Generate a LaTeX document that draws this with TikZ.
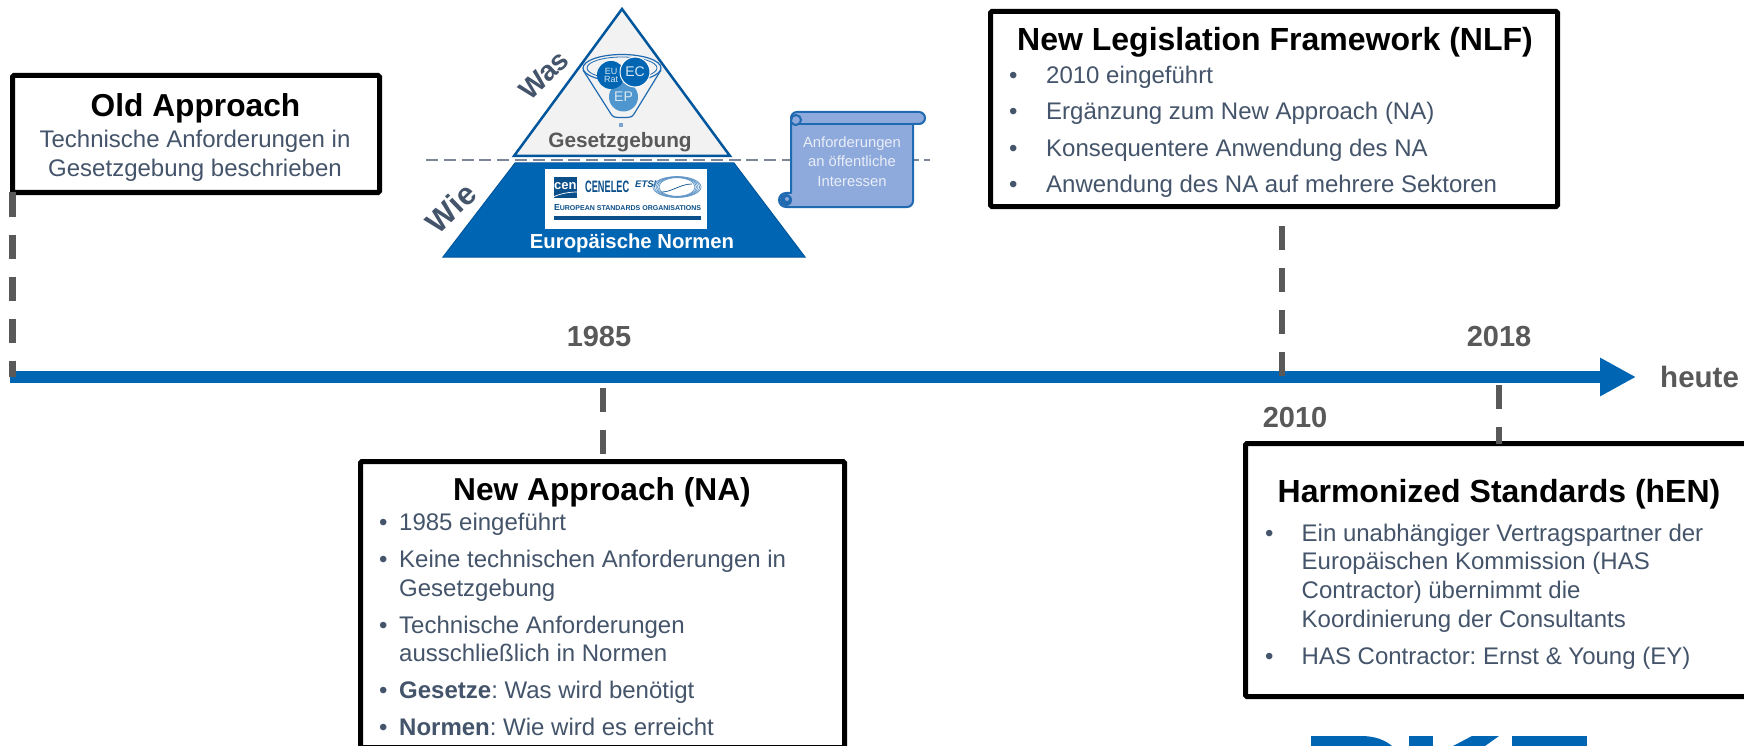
\documentclass[tikz,border=0pt]{standalone}
\usepackage{fontspec}
\usepackage{graphicx}
\setmainfont{Liberation Sans}
\usetikzlibrary{arrows.meta}
\definecolor{body}{HTML}{44546A}
\definecolor{yeargray}{HTML}{595959}
\definecolor{dkblue}{HTML}{0065B3}
\definecolor{edgeblue}{HTML}{00569C}
\definecolor{deepblue}{HTML}{0B4F8A}
\definecolor{scrollfill}{HTML}{8EA9DB}
\definecolor{scrolledge}{HTML}{1F6AB0}
\definecolor{scrolltext}{HTML}{E9EEF8}
\definecolor{midline}{HTML}{7C8699}
\definecolor{epblue}{HTML}{4F96CF}
\newcommand{\fs}[1]{\fontsize{#1}{#1}\selectfont}
\frenchspacing
\tikzset{
  x=1pt,y=1pt,
  frame/.style={draw=black,fill=white,line width=5pt,rounded corners=1.5pt,inner sep=0pt,outer sep=0pt,anchor=north west},
  title/.style={font=\fs{32}\bfseries,text=black,inner sep=0pt,anchor=base},
  line/.style={font=\fs{24},text=body,inner sep=0pt,anchor=base west},
  linec/.style={font=\fs{24},text=body,inner sep=0pt,anchor=base},
  year/.style={font=\fs{29}\bfseries,text=yeargray,inner sep=0pt,anchor=base},
  conn/.style={draw=yeargray,line width=6.5pt,dash pattern=on 24pt off 18pt},
  scrolltxt/.style={font=\fs{14.8},text=scrolltext,inner sep=0pt,anchor=base},
  pyrlabel/.style={font=\bfseries,text=body,inner sep=0pt,rotate=44},
  circ/.style={circle,inner sep=0pt,outer sep=0pt,text=white!85!dkblue,align=center}
}
\begin{document}
\begin{tikzpicture}
\useasboundingbox (0,0) rectangle (1744,-746);
\clip (0,0) rectangle (1744,-746);
\fill[white] (0,0) rectangle (1744,-746);

% timeline
\coordinate (tlstart) at (10,-377);
\coordinate (tlend) at (1636,-377);
\draw[dkblue,line width=12pt,-{Triangle[length=36pt,width=36pt]}] (tlstart) -- (tlend);

% text boxes
\node[frame,minimum width=367pt,minimum height=117pt] (oldbox) at (12.5,-75.5) {};
\node[frame,minimum width=567pt,minimum height=195pt] (nlfbox) at (990.5,-11.5) {};
\node[frame,minimum width=484pt,minimum height=286pt] (nabox) at (360.5,-461.5) {};
\node[frame,minimum width=540pt,minimum height=253pt] (henbox) at (1245.5,-443.5) {};

% connectors
\coordinate (on1985) at (603,-388);
\coordinate (on2010) at (1282,-376);
\coordinate (top2010) at (1282,-226);
\coordinate (on2018) at (1499,-385);
\coordinate (onold) at (12.5,-377);
\draw[conn] (oldbox.south west) -- (onold);
\draw[conn] (on1985) -- (on1985 |- nabox.north);
\draw[conn] (top2010) -- (on2010);
\draw[conn] (on2018) -- (on2018 |- henbox.north);

% Old Approach
\node[title,font=\fs{31.7}\bfseries] (oldt) at (195.5,-117) {Old Approach};
\node[linec] (old1) at (195,-148) {Technische Anforderungen in};
\node[linec] (old2) at (195,-177) {Gesetzgebung beschrieben};

% NLF
\node[title] (nlft) at (1275,-51) {New Legislation Framework (NLF)};
\foreach \n/\y/\t in {a/83.5/2010 eingeführt,b/120/Ergänzung zum New Approach (NA),c/157/Konsequentere Anwendung des NA,d/193/Anwendung des NA auf mehrere Sektoren}{
  \node[line] (nlfb\n) at (1009,-\y) {•};
  \node[line] (nlf\n) at (1046,-\y) {\t};
}

% New Approach
\node[title,font=\fs{31.7}\bfseries] (nat) at (602,-500.5) {New Approach (NA)};
\foreach \n/\y in {a/530,b/567,c/633,d/698,e/735}{
  \node[line] (nab\n) at (379,-\y) {•};
}
\node[line] (na1) at (399,-530) {1985 eingeführt};
\node[line] (na2) at (399,-567) {Keine technischen Anforderungen in};
\node[line] (na3) at (399,-596) {Gesetzgebung};
\node[line] (na4) at (399,-633) {Technische Anforderungen};
\node[line] (na5) at (399,-661) {ausschließlich in Normen};
\node[line] (na6) at (399,-698) {\textbf{Gesetze}: Was wird benötigt};
\node[line] (na7) at (399,-735) {\textbf{Normen}: Wie wird es erreicht};

% Harmonized Standards
\node[title] (hent) at (1499,-502) {Harmonized Standards (hEN)};
\foreach \n/\y in {a/541,b/664}{
  \node[line] (henb\n) at (1265,-\y) {•};
}
\node[line] (hen1) at (1301.5,-541) {Ein unabhängiger Vertragspartner der};
\node[line] (hen2) at (1301.5,-569) {Europäischen Kommission (HAS};
\node[line] (hen3) at (1301.5,-598) {Contractor) übernimmt die};
\node[line] (hen4) at (1301.5,-627) {Koordinierung der Consultants};
\node[line] (hen5) at (1301.5,-664) {HAS Contractor: Ernst \& Young (EY)};

% years
\node[year] (y1985) at (599,-346) {1985};
\node[year] (y2010) at (1295,-427) {2010};
\node[year] (y2018) at (1499,-346) {2018};
\node[year,anchor=base west,font=\fs{29.5}\bfseries] (yheute) at (1660,-387) {heute};

% pyramid
\draw[edgeblue,fill=black!5,line width=2.5pt,line join=miter] (622,-9) -- (730,-156) -- (514,-156) -- cycle;
\fill[dkblue,draw=edgeblue,line width=1pt] (515,-163) -- (734,-163) -- (805,-257) -- (443,-257) -- cycle;
\draw[midline,line width=2.5pt,dash pattern=on 12pt off 5.8pt] (426,-160) -- (930,-160);
\node[font=\fs{20.8}\bfseries,text=yeargray,inner sep=0pt,anchor=base] (gesetz) at (620,-148) {Gesetzgebung};
\node[font=\fs{20.3}\bfseries,text=white,inner sep=0pt,anchor=base] (normen) at (632,-248) {Europäische Normen};
\node[pyrlabel,font=\fs{28}\bfseries] (was) at (544,-75) {Was};
\node[pyrlabel,font=\fs{31}\bfseries] (wie) at (451,-208) {Wie};

% funnel
\draw[scrolledge,line width=1.2pt,fill=black!5] (583,-70) -- (611,-114) .. controls (613,-117) and (615,-117.5) .. (618,-117.5) -- (627,-117.5) .. controls (630,-117.5) and (632,-117) .. (634,-114) -- (661,-70);
\draw[scrolledge,line width=1.2pt] (622,-68) ellipse [x radius=39,y radius=13.5];
\draw[scrolledge,line width=0.8pt] (622,-68) ellipse [x radius=35,y radius=11];
\node[circ,fill=epblue,minimum size=29pt,font=\fs{14}] (ep) at (623.5,-97) {EP};
\node[circ,fill=dkblue,minimum size=28pt,font=\fs{9},align=center] (eu) at (611,-75) {EU\\[-1pt]Rat};
\node[circ,fill=dkblue,draw=white,line width=1pt,minimum size=30pt,font=\fs{14}] (ec) at (635,-72) {EC};
\fill[white!40!scrolledge] (619,-127) rectangle (623,-123);

% standards logo panel
\fill[white] (545,-169) rectangle (707,-229);
\node[fill=deepblue,minimum width=22pt,minimum height=21pt,inner sep=0pt,text=white,font=\fs{13}\bfseries,anchor=north west] (cen) at (554,-177) {\raisebox{3pt}{cen}};
\draw[white,line width=0.7pt] (553,-197) .. controls (562,-193) and (570,-192) .. (578,-192);
\node[inner sep=0pt,anchor=base west,text=deepblue,font=\fs{16.5}\bfseries,xscale=0.56,transform shape] (cenelec) at (585,-193) {CENELEC};
\node[inner sep=0pt,anchor=base west,text=deepblue,font=\fs{9.5}\bfseries\itshape] (etsi) at (635,-188) {ETSI};
\foreach \r/\q in {24/10.5,22.5/10.2,21/9.9,19.5/9.6,18/9.3}{
  \draw[scrolledge!70,line width=0.7pt] (677,-187) ellipse [x radius=\r,y radius=\q];
}
\draw[deepblue,line width=0.7pt] (662,-192) .. controls (672,-192) and (680,-184) .. (692,-184);
\node[inner sep=0pt,anchor=base,text=deepblue] (eso) at (627.5,-210) {\resizebox{147pt}{!}{\fs{8}\bfseries E\fs{6.4}UROPEAN S\fs{6.4}TANDARDS O\fs{6.4}RGANISATIONS}};
\fill[deepblue] (554,-216) rectangle (701,-219.5);

% scroll
\draw[scrolledge,fill=scrollfill,line width=2pt,line join=round]
  (791,-193) -- (791,-118) arc[start angle=180,end angle=90,radius=6] -- (919,-112)
  arc[start angle=90,end angle=-90,radius=6] -- (913,-124) -- (913,-201)
  arc[start angle=0,end angle=-90,radius=6] -- (786,-207)
  arc[start angle=270,end angle=90,radius=7] -- cycle;
\draw[scrolledge,line width=2pt] (798,-124) -- (913,-124);
\draw[scrolledge,line width=2pt] (791,-120) arc[start angle=180,end angle=-150,radius=5];
\fill[scrolledge] (786,-200) circle (6);
\fill[scrollfill] (787,-199) circle (2);
\node[scrolltxt] (s1) at (852,-148) {Anforderungen};
\node[scrolltxt] (s2) at (852,-167) {an öffentliche};
\node[scrolltxt] (s3) at (852,-186) {Interessen};

% DKE logo, cut off by the page edge
\fill[dkblue] (1311,-736) -- (1361,-736) .. controls (1375,-736) and (1385,-740) .. (1392,-746) -- (1311,-746) -- cycle;
\fill[dkblue] (1409,-736) rectangle (1433,-746);
\fill[dkblue] (1472,-736) -- (1499,-736) -- (1485,-746) -- (1453,-746) -- cycle;
\fill[dkblue] (1512,-736) rectangle (1587,-746);
\end{tikzpicture}
\end{document}
